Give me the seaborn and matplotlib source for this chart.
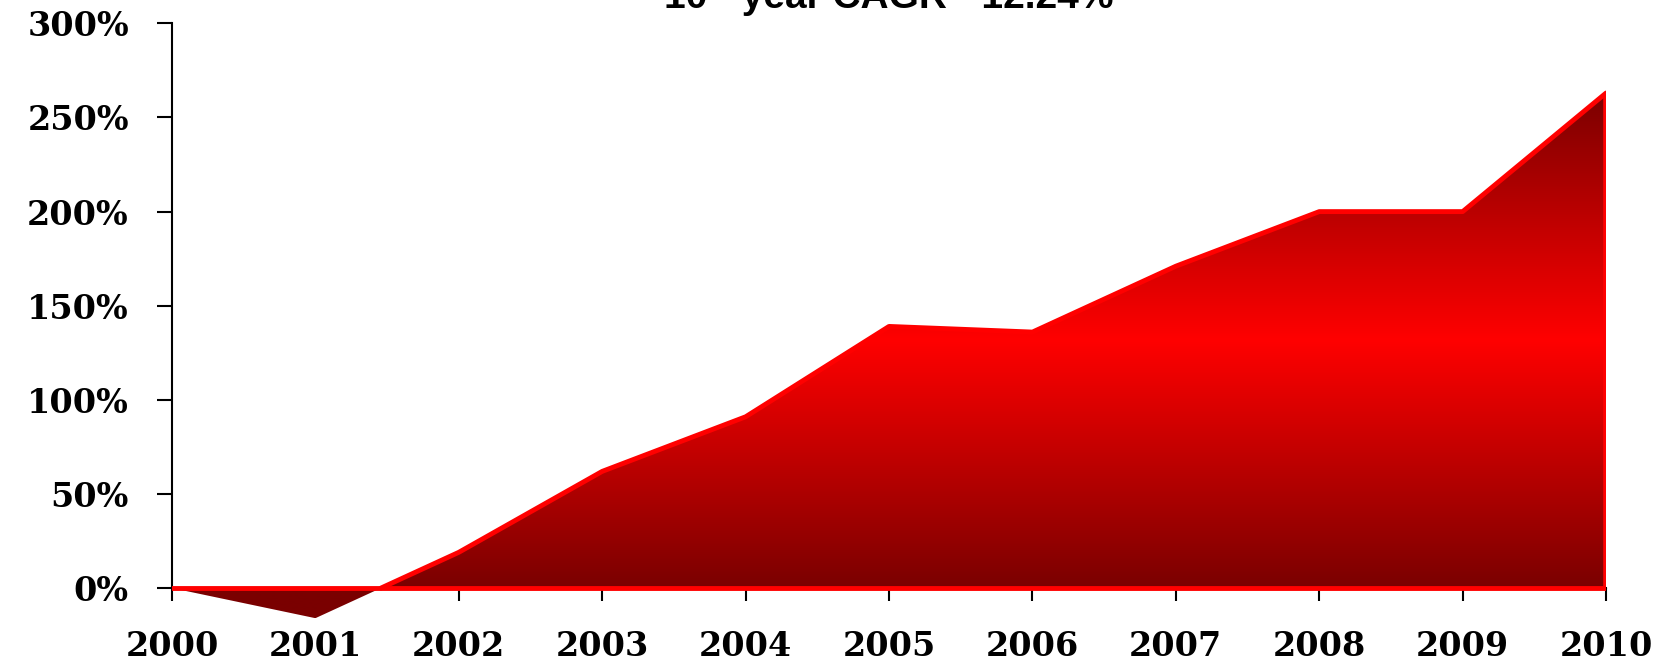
import matplotlib
matplotlib.use("Agg")
import matplotlib.pyplot as plt
import numpy as np
import seaborn as sns
from matplotlib.colors import to_rgb

# data
years = [2000, 2001, 2002, 2003, 2004, 2005, 2006, 2007, 2008, 2009, 2010]
growth = [0, -16, 19, 62, 91, 139, 136, 171, 200, 200, 263]
yTicks = [0, 50, 100, 150, 200, 250, 300]
titulo = "10 - year CAGR - 12.24%"

sns.set_theme(style="white")
plt.rcParams['font.family'] = ['DejaVu Serif', 'Liberation Serif']

fig = plt.figure(figsize=(16.65, 6.66), dpi=100)
ax = fig.add_axes([0.1033, 0.0605, 0.8613, 0.9044])

x = np.array(years, dtype=float)
y = np.array(growth, dtype=float)

# area used only as clip for the gradient
area = ax.fill_between(x, y, 0, facecolor='none', edgecolor='none')

# vertical gradient dark -> bright red -> dark
yy = np.linspace(y.min(), y.max(), 400)
t = np.clip(yy / y.max(), 0, 1)
w = 1 - np.abs(2 * t - 1)
dark = np.array(to_rgb('#7a0000'))
bright = np.array(to_rgb('#ff0000'))
cols = dark + (bright - dark) * w[:, None]
img = np.repeat(cols[:, None, :], 2, axis=1)
im = ax.imshow(img, extent=[x.min(), x.max(), y.min(), y.max()], origin='lower',
               aspect='auto', interpolation='bilinear', zorder=1)
im.set_clip_path(area.get_paths()[0], transform=ax.transData)

# red outline only on the positive part (from the zero crossing on)
xs, ys = [], []
for i in range(len(x)):
    if i > 0 and (y[i - 1] < 0) != (y[i] < 0):
        xc = x[i - 1] + (0 - y[i - 1]) * (x[i] - x[i - 1]) / (y[i] - y[i - 1])
        xs.append(xc)
        ys.append(0.0)
    if y[i] >= 0:
        xs.append(x[i])
        ys.append(y[i])
xs = np.array(xs)
ys = np.array(ys)
k = np.argmax(xs > x[1])
sns.lineplot(x=xs[k:], y=ys[k:], color='#ff0000', lw=3.5, sort=False, ax=ax, zorder=3)
ax.vlines(x[-1], 0, y[-1], color='#ff0000', lw=4, zorder=3)
ax.axhline(0, color='#ff0000', lw=3.5, zorder=3)

ax.set_xlim(2000, 2010)
ax.set_ylim(-20, 300)
ax.set_xticks(years)
ax.set_xticklabels([str(a) for a in years])
ax.set_yticks(yTicks)
ax.set_yticklabels([f"{v}%" for v in yTicks])

for s in ['top', 'right']:
    ax.spines[s].set_visible(False)
ax.spines['left'].set_bounds(0, 300)
ax.spines['left'].set_color('black')
ax.spines['left'].set_linewidth(1.5)
ax.spines['bottom'].set_position(('data', 0))
ax.spines['bottom'].set_color('black')
ax.spines['bottom'].set_linewidth(1.5)
ax.set_facecolor('white')

ax.tick_params(axis='y', direction='out', length=11, width=1.5, pad=20,
               labelsize=24, left=True, color='black', labelcolor='black')
ax.tick_params(axis='x', direction='out', length=9, width=1.5, pad=21,
               labelsize=24, bottom=True, color='black', labelcolor='black')
for lab in ax.get_xticklabels() + ax.get_yticklabels():
    lab.set_fontweight('bold')

ax.set_title(titulo, fontsize=28, fontweight='bold', color='black',
             family=['Liberation Sans', 'DejaVu Sans'], pad=11)

fig.savefig("out.png", dpi=100)
